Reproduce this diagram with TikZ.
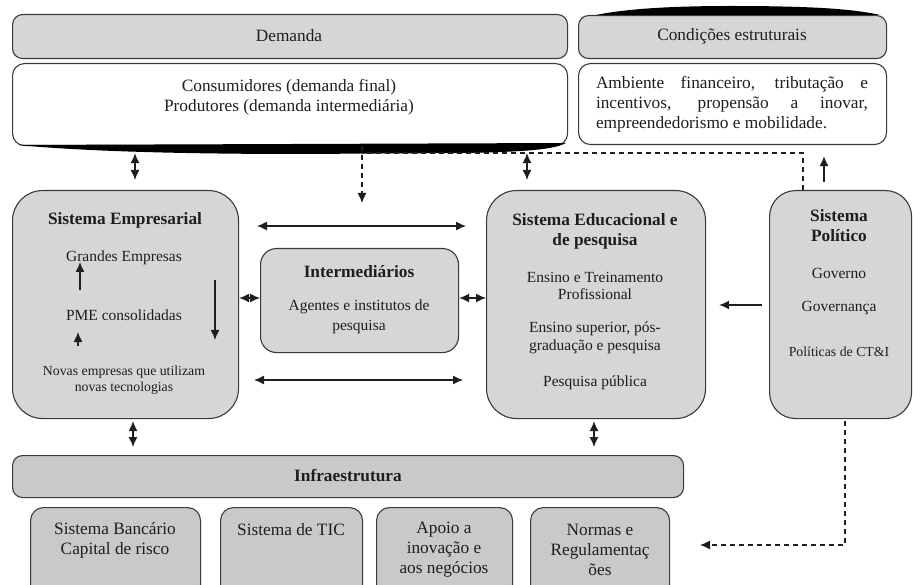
\documentclass[tikz,border=0pt]{standalone}
\usepackage{fontspec}
\setmainfont{Liberation Serif}
\usetikzlibrary{arrows.meta}

\definecolor{edge}{HTML}{3A3A3A}
\definecolor{panel}{HTML}{D6D6D6}
\definecolor{infra}{HTML}{C9C9C9}
\definecolor{ink}{HTML}{1E1E1E}

\newcommand\fbig{\fontsize{17.3}{20}\selectfont}
\newcommand\fmid{\fontsize{15.5}{17.5}\selectfont}
\newcommand\fsml{\fontsize{13.8}{16}\selectfont}

\tikzset{
  panelbox/.style={draw=edge, line width=1.1pt, fill=panel, anchor=north west,
    inner sep=0pt, rounded corners=#1},
  panelbox/.default=10pt,
  whitebox/.style={panelbox=12pt, fill=white},
  lbl/.style={text=ink, align=center, inner sep=0pt},
  tip/.tip={Latex[length=10pt,width=9pt]},
  dbl/.style={tip-tip, line width=1.3pt, draw=ink},
  one/.style={-tip, line width=1.3pt, draw=ink},
  dsh/.style={line width=1.2pt, draw=ink, dash pattern=on 5pt off 4pt},
}

\begin{document}
\begin{tikzpicture}[x=1pt,y=-1pt]
\useasboundingbox (0,0) rectangle (913,585);
\clip (0,0) rectangle (913,585);
\fill[white] (0,0) rectangle (913,585);

% top row: demand and structural conditions
\node[panelbox, minimum width=555pt, minimum height=44pt] (dem) at (12,14) {};
\node[lbl, font=\fbig] (demT) at (289,36) {Demanda};
\node[panelbox, minimum width=308pt, minimum height=43pt] (cond) at (578,15) {};
\node[lbl, font=\fbig] (condT) at (732,36) {Condições estruturais};

\node[whitebox, minimum width=555pt, minimum height=82pt] (cons) at (12,63) {};
\node[lbl, font=\fbig] (consT) at (289,97) {Consumidores (demanda final)\\Produtores (demanda intermediária)};
\node[whitebox, minimum width=308pt, minimum height=81pt] (amb) at (578,63) {};
\node[lbl, font=\fbig, text width=272pt, align=justify] (ambT) at (732,104)
  {\hyphenpenalty=10000 Ambiente financeiro, tributação e\linebreak incentivos, propensão a inovar,\linebreak empreendedorismo e mobilidade.};

% heavy shadow strokes
\fill[black] (18,145) .. controls (90,152) and (200,154) .. (300,154) -- (460,153)
  .. controls (530,152) and (555,149) .. (566,143) -- cycle;
\fill[black] (596,15) .. controls (630,8) and (680,6) .. (730,6)
  .. controls (800,6) and (850,8) .. (880,15) -- cycle;

% middle row
\node[panelbox=30pt, minimum width=226pt, minimum height=228pt] (emp) at (12,190) {};
\node[lbl, font=\fbig\bfseries] (empT) at (125,220) {Sistema Empresarial};
\node[lbl, font=\fmid] (gde) at (124,258) {Grandes Empresas};
\node[lbl, font=\fmid] (pme) at (124,315) {PME consolidadas};
\node[lbl, font=\fsml] (nov) at (124,380) {Novas empresas que utilizam\\novas tecnologias};

\node[panelbox=16pt, minimum width=198pt, minimum height=104pt] (int) at (260,248) {};
\node[lbl, font=\fbig\bfseries] (intT) at (359,272) {Intermediários};
\node[lbl, font=\fmid, align=center] (intA) at (359,317) {Agentes e institutos de\\[2pt]pesquisa};

\node[panelbox=30pt, minimum width=219pt, minimum height=228pt] (edu) at (486,190) {};
\node[lbl, font=\fbig\bfseries] (eduT) at (595,231) {Sistema Educacional e\\de pesquisa};
\node[lbl, font=\fmid] (edu1) at (595,286) {Ensino e Treinamento\\Profissional};
\node[lbl, font=\fmid] (edu2) at (595,338) {Ensino superior, pós-\\graduação e pesquisa};
\node[lbl, font=\fmid] (edu3) at (595,383) {Pesquisa pública};

\node[panelbox=26pt, minimum width=142pt, minimum height=228pt] (pol) at (769,190) {};
\node[lbl, font=\fbig\bfseries] (polT) at (839,226) {Sistema\\Político};
\node[lbl, font=\fmid] (pol1) at (839,273) {Governo};
\node[lbl, font=\fmid] (pol2) at (839,308) {Governança};
\node[lbl, font=\fsml] (pol3) at (839,352) {Políticas de CT\&I};

% infrastructure
\node[panelbox, fill=infra, minimum width=671pt, minimum height=42pt] (inf) at (12,455) {};
\node[lbl, font=\fbig\bfseries] (infT) at (348,476) {Infraestrutura};

\node[panelbox=13pt, fill=infra, minimum width=170pt, minimum height=90pt] (b1) at (30,507) {};
\node[lbl, font=\fbig] (b1T) at (115,540) {Sistema Bancário\\Capital de risco};
\node[panelbox=13pt, fill=infra, minimum width=142pt, minimum height=90pt] (b2) at (220,507) {};
\node[lbl, font=\fbig] (b2T) at (291,530) {Sistema de TIC};
\node[panelbox=13pt, fill=infra, minimum width=136pt, minimum height=90pt] (b3) at (376,507) {};
\node[lbl, font=\fbig] (b3T) at (444,550) {Apoio a\\inovação e\\aos negócios};
\node[panelbox=13pt, fill=infra, minimum width=139pt, minimum height=90pt] (b4) at (530,507) {};
\node[lbl, font=\fbig] (b4T) at (600,550) {Normas e\\Regulamentaç\\ões};

% connectors between the top row and the systems
\draw[dbl] ([yshift=-7pt]cons.south -| 135,0) -- ([yshift=10pt]emp.north -| 135,0);
\draw[dbl] ([yshift=-7pt]cons.south -| 527,0) -- ([yshift=10pt]edu.north -| 527,0);
\draw[one] ([yshift=8pt]pol.north -| 824,0) -- ([yshift=-11pt]amb.south -| 824,0);

\coordinate (dTop) at (362,146);
\coordinate (dEnd) at (362,203);
\coordinate (dCorner) at (803,153);
\draw[dsh] (pol.north -| dCorner) -- (dCorner) -- (dTop |- dCorner);
\draw[dsh, -tip] (dTop) -- (dEnd);

% horizontal links across the middle row
\coordinate (hTopL) at (257,226);
\coordinate (hTopR) at (466,226);
\coordinate (hBotL) at (254,380);
\coordinate (hBotR) at (463,380);
\draw[dbl] (hTopL) -- (hTopR);
\draw[dbl] (hBotL) -- (hBotR);
\draw[dbl] (emp.east |- 0,298) -- (int.west |- 0,298);
\draw[dbl] (int.east |- 0,298) -- (edu.west |- 0,298);
\draw[one] ([xshift=-7pt]pol.west |- 0,305) -- ([xshift=13pt]edu.east |- 0,305);

% growth path inside the business system
\draw[one] (80,290) -- (80,262);
\draw[one] (78,346) -- (78,332);
\draw[one] (215,280) -- (215,340);

% links to the infrastructure
\draw[dbl] ([yshift=-2pt]emp.south -| 133,0) -- ([yshift=8pt]inf.north -| 133,0);
\draw[dbl] ([yshift=-2pt]edu.south -| 594,0) -- ([yshift=8pt]inf.north -| 594,0);
\coordinate (pCorner) at (845,545);
\coordinate (pEnd) at (700,545);
\draw[dsh, -tip] ([yshift=-2pt]pol.south -| pCorner) -- (pCorner) -- (pEnd);
\end{tikzpicture}
\end{document}
